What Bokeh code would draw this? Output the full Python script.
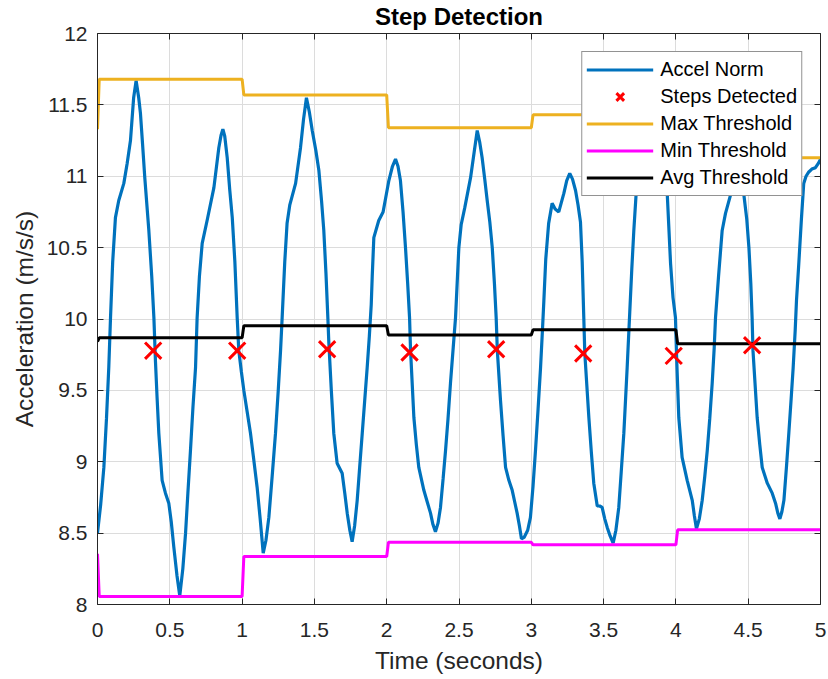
from bokeh.plotting import figure
from bokeh.models import LinearAxis, FixedTicker, Legend, LegendItem, Range1d
from bokeh.embed import file_html
from bokeh.resources import INLINE

# ---------------- data ----------------
accel_t = [
    0.000, 0.022, 0.044, 0.062, 0.078, 0.090, 0.105, 0.124, 0.147, 0.182, 0.205, 0.228, 0.250, 0.267,
    0.285, 0.297, 0.312, 0.327, 0.355, 0.375, 0.390, 0.401, 0.412, 0.424, 0.447, 0.470, 0.493, 0.510,
    0.528, 0.550, 0.569, 0.590, 0.609, 0.625, 0.643, 0.660, 0.678, 0.689, 0.705, 0.724, 0.758, 0.805,
    0.839, 0.855, 0.867, 0.880, 0.897, 0.915, 0.932, 0.950, 0.966, 0.977, 0.995, 1.012, 1.035, 1.058,
    1.080, 1.104, 1.125, 1.146, 1.165, 1.185, 1.208, 1.231, 1.250, 1.266, 1.277, 1.295, 1.311, 1.330,
    1.370, 1.404, 1.425, 1.445, 1.465, 1.485, 1.510, 1.531, 1.550, 1.565, 1.580, 1.593, 1.600, 1.617,
    1.634, 1.657, 1.692, 1.710, 1.727, 1.745, 1.761, 1.778, 1.796, 1.813, 1.831, 1.848, 1.865, 1.880,
    1.893, 1.900, 1.911, 1.945, 1.975, 1.995, 2.015, 2.040, 2.061, 2.078, 2.095, 2.113, 2.130, 2.145,
    2.158, 2.165, 2.188, 2.205, 2.222, 2.257, 2.280, 2.303, 2.320, 2.337, 2.355, 2.372, 2.390, 2.407,
    2.424, 2.441, 2.460, 2.476, 2.499, 2.515, 2.540, 2.580, 2.605, 2.626, 2.643, 2.660, 2.678, 2.695,
    2.713, 2.730, 2.745, 2.757, 2.765, 2.787, 2.805, 2.822, 2.845, 2.868, 2.885, 2.902, 2.918, 2.932,
    2.950, 2.975, 2.994, 3.012, 3.029, 3.047, 3.064, 3.076, 3.087, 3.100, 3.120, 3.144, 3.165, 3.190,
    3.225, 3.245, 3.266, 3.285, 3.306, 3.323, 3.340, 3.352, 3.363, 3.370, 3.398, 3.415, 3.432, 3.456,
    3.473, 3.490, 3.508, 3.525, 3.545, 3.566, 3.585, 3.605, 3.622, 3.640, 3.663, 3.681, 3.695, 3.709,
    3.732, 3.760, 3.800, 3.835, 3.870, 3.905, 3.940, 3.963, 3.980, 3.997, 4.005, 4.020, 4.043, 4.078,
    4.113, 4.128, 4.142, 4.162, 4.182, 4.200, 4.217, 4.234, 4.251, 4.265, 4.274, 4.295, 4.320, 4.343,
    4.378, 4.400, 4.425, 4.450, 4.470, 4.490, 4.505, 4.518, 4.527, 4.533, 4.562, 4.580, 4.597, 4.632,
    4.666, 4.689, 4.705, 4.719, 4.733, 4.747, 4.765, 4.781, 4.797, 4.811, 4.825, 4.834, 4.850, 4.868,
    4.884, 4.900, 4.919, 4.940, 4.965, 4.985, 5.000,
]
accel_v = [
    8.50, 8.70, 8.96, 9.30, 9.66, 10.01, 10.40, 10.71, 10.83, 10.95, 11.09, 11.25, 11.55, 11.67,
    11.55, 11.44, 11.22, 10.99, 10.62, 10.30, 10.01, 9.70, 9.45, 9.20, 8.87, 8.78, 8.71, 8.58,
    8.40, 8.20, 8.06, 8.25, 8.50, 8.78, 9.08, 9.38, 9.66, 10.01, 10.30, 10.53, 10.69, 10.92,
    11.20, 11.29, 11.33, 11.28, 11.13, 10.90, 10.71, 10.40, 10.01, 9.78, 9.63, 9.50, 9.35, 9.20,
    9.02, 8.82, 8.60, 8.36, 8.45, 8.61, 8.90, 9.20, 9.50, 9.78, 10.01, 10.40, 10.67, 10.80,
    10.95, 11.20, 11.40, 11.55, 11.45, 11.32, 11.18, 11.04, 10.82, 10.62, 10.32, 10.01, 9.83, 9.50,
    9.20, 8.99, 8.92, 8.78, 8.64, 8.52, 8.44, 8.55, 8.73, 8.96, 9.20, 9.43, 9.66, 9.88,
    10.10, 10.30, 10.57, 10.69, 10.75, 10.86, 10.97, 11.07, 11.12, 11.07, 10.97, 10.75, 10.50, 10.25,
    10.01, 9.78, 9.31, 9.12, 8.96, 8.80, 8.72, 8.64, 8.56, 8.51, 8.57, 8.68, 8.88, 9.08,
    9.30, 9.55, 9.80, 10.01, 10.50, 10.66, 10.78, 10.99, 11.17, 11.32, 11.24, 11.13, 10.98, 10.83,
    10.68, 10.50, 10.25, 10.01, 9.78, 9.43, 9.18, 8.96, 8.87, 8.80, 8.72, 8.64, 8.55, 8.46,
    8.47, 8.52, 8.61, 8.83, 9.08, 9.37, 9.66, 9.90, 10.13, 10.42, 10.67, 10.81, 10.77, 10.75,
    10.88, 10.97, 11.02, 10.98, 10.90, 10.80, 10.68, 10.40, 10.01, 9.76, 9.31, 9.07, 8.85, 8.69,
    8.69, 8.68, 8.60, 8.54, 8.48, 8.43, 8.52, 8.68, 8.93, 9.20, 9.66, 10.05, 10.35, 10.62,
    10.99, 11.20, 11.38, 11.43, 11.35, 11.15, 10.88, 10.39, 10.15, 10.01, 9.73, 9.31, 9.03, 8.87,
    8.73, 8.62, 8.53, 8.60, 8.73, 8.90, 9.08, 9.30, 9.55, 9.80, 10.01, 10.30, 10.62, 10.74,
    10.87, 10.98, 11.10, 11.03, 10.87, 10.70, 10.50, 10.25, 10.01, 9.78, 9.31, 9.12, 8.96, 8.85,
    8.78, 8.71, 8.64, 8.60, 8.65, 8.73, 8.97, 9.20, 9.44, 9.66, 9.92, 10.13, 10.39, 10.70,
    10.95, 11.00, 11.03, 11.05, 11.06, 11.09, 11.12,
]

step_t = [0.385, 0.966, 1.588, 2.158, 2.757, 3.359, 3.985, 4.527]
step_v = [9.778, 9.778, 9.788, 9.765, 9.788, 9.758, 9.742, 9.816]

window_start = [0, 1, 2, 3, 4]
window_end = [1, 2, 3, 4, 5]
max_thr = [11.68, 11.57, 11.34, 11.43, 11.13]
min_thr = [8.056, 8.336, 8.436, 8.418, 8.523]
max_thr_initial = 11.33
min_thr_initial = 8.355

x_ticks = [0, 0.5, 1, 1.5, 2, 2.5, 3, 3.5, 4, 4.5, 5]
x_tick_labels = ["0", "0.5", "1", "1.5", "2", "2.5", "3", "3.5", "4", "4.5", "5"]
y_ticks = [8, 8.5, 9, 9.5, 10, 10.5, 11, 11.5, 12]
y_tick_labels = ["8", "8.5", "9", "9.5", "10", "10.5", "11", "11.5", "12"]

# ---------------- build step threshold lines ----------------
RAMP = 0.012


def step_line(initial, vals):
    ts, vs = [window_start[0]], [initial]
    for s, e, v in zip(window_start, window_end, vals):
        ts += [s + RAMP, e]
        vs += [v, v]
    return ts, vs


max_t, max_v = step_line(max_thr_initial, max_thr)
min_t, min_v = step_line(min_thr_initial, min_thr)
avg_t = max_t
avg_v = [(a + b) / 2 for a, b in zip(max_v, min_v)]

FONT = "Liberation Sans"
AX = "#262626"

p = figure(width=828, height=679, x_range=Range1d(0, 5), y_range=Range1d(8, 12),
           output_backend="svg", toolbar_location=None,
           min_border_left=97, min_border_right=8, min_border_top=33, min_border_bottom=75)
p.background_fill_color = "white"
p.border_fill_color = "white"
p.outline_line_color = None

p.title.text = "Step Detection"
p.title.align = "center"
p.title.vertical_align = "top"
p.title.text_font = FONT
p.title.text_font_size = "24px"
p.title.text_font_style = "bold"
p.title.text_color = "black"
p.title.standoff = 4

# axes
xa = p.xaxis[0]
ya = p.yaxis[0]
xa.ticker = FixedTicker(ticks=x_ticks)
ya.ticker = FixedTicker(ticks=y_ticks)
xa.major_label_overrides = dict(zip(x_ticks, x_tick_labels))
ya.major_label_overrides = dict(zip(y_ticks, y_tick_labels))
xa.axis_label = "Time (seconds)"
ya.axis_label = "Acceleration (m/s/s)"
for ax in (xa, ya):
    ax.axis_label_text_font = FONT
    ax.axis_label_text_font_size = "24.5px"
    ax.axis_label_text_font_style = "normal"
    ax.axis_label_text_color = AX
    ax.major_label_text_font = FONT
    ax.major_label_text_font_size = "21px"
    ax.major_label_text_color = AX
    ax.major_tick_in = 6
    ax.major_tick_out = 0
    ax.minor_tick_line_color = None
    ax.axis_line_color = AX
    ax.major_tick_line_color = AX
xa.major_label_standoff = 18
ya.major_label_standoff = 10
xa.axis_label_standoff = 7
ya.axis_label_standoff = 6

top = LinearAxis(ticker=FixedTicker(ticks=x_ticks),
                 major_label_overrides={t: "" for t in x_ticks})
right = LinearAxis(ticker=FixedTicker(ticks=y_ticks),
                   major_label_overrides={t: "" for t in y_ticks})
for ax in (top, right):
    ax.major_label_text_font_size = "0px"
    ax.major_label_standoff = 0
    ax.major_tick_in = 6
    ax.major_tick_out = 0
    ax.minor_tick_line_color = None
    ax.axis_line_color = AX
    ax.major_tick_line_color = AX
p.add_layout(top, "above")
p.add_layout(right, "right")

p.xgrid.ticker = FixedTicker(ticks=x_ticks)
p.ygrid.ticker = FixedTicker(ticks=y_ticks)
p.xgrid.grid_line_color = "#dcdcdc"
p.ygrid.grid_line_color = "#dcdcdc"

# glyphs
r_acc = p.line(accel_t, accel_v, line_color="#0072BD", line_width=3.2)
r_max = p.line(max_t, max_v, line_color="#EDB120", line_width=3)
r_min = p.line(min_t, min_v, line_color="#FF00FF", line_width=3)
r_avg = p.line(avg_t, avg_v, line_color="black", line_width=3)
r_steps = p.scatter(step_t, step_v, marker="x", size=23, line_color="#FF0000", line_width=3)

legend = Legend(items=[
    LegendItem(label="Accel Norm", renderers=[r_acc]),
    LegendItem(label="Steps Detected", renderers=[r_steps]),
    LegendItem(label="Max Threshold", renderers=[r_max]),
    LegendItem(label="Min Threshold", renderers=[r_min]),
    LegendItem(label="Avg Threshold", renderers=[r_avg]),
], location="top_right")
legend.label_text_font = FONT
legend.label_text_font_size = "20px"
legend.label_text_color = "black"
legend.glyph_width = 67
legend.glyph_height = 27
legend.label_height = 27
legend.label_standoff = 7
legend.spacing = 0
legend.padding = 4
legend.margin = 18
legend.border_line_color = AX
legend.border_line_width = 1
legend.background_fill_color = "white"
legend.background_fill_alpha = 1
p.add_layout(legend)

open("out.html", "w").write(file_html(p, INLINE))
